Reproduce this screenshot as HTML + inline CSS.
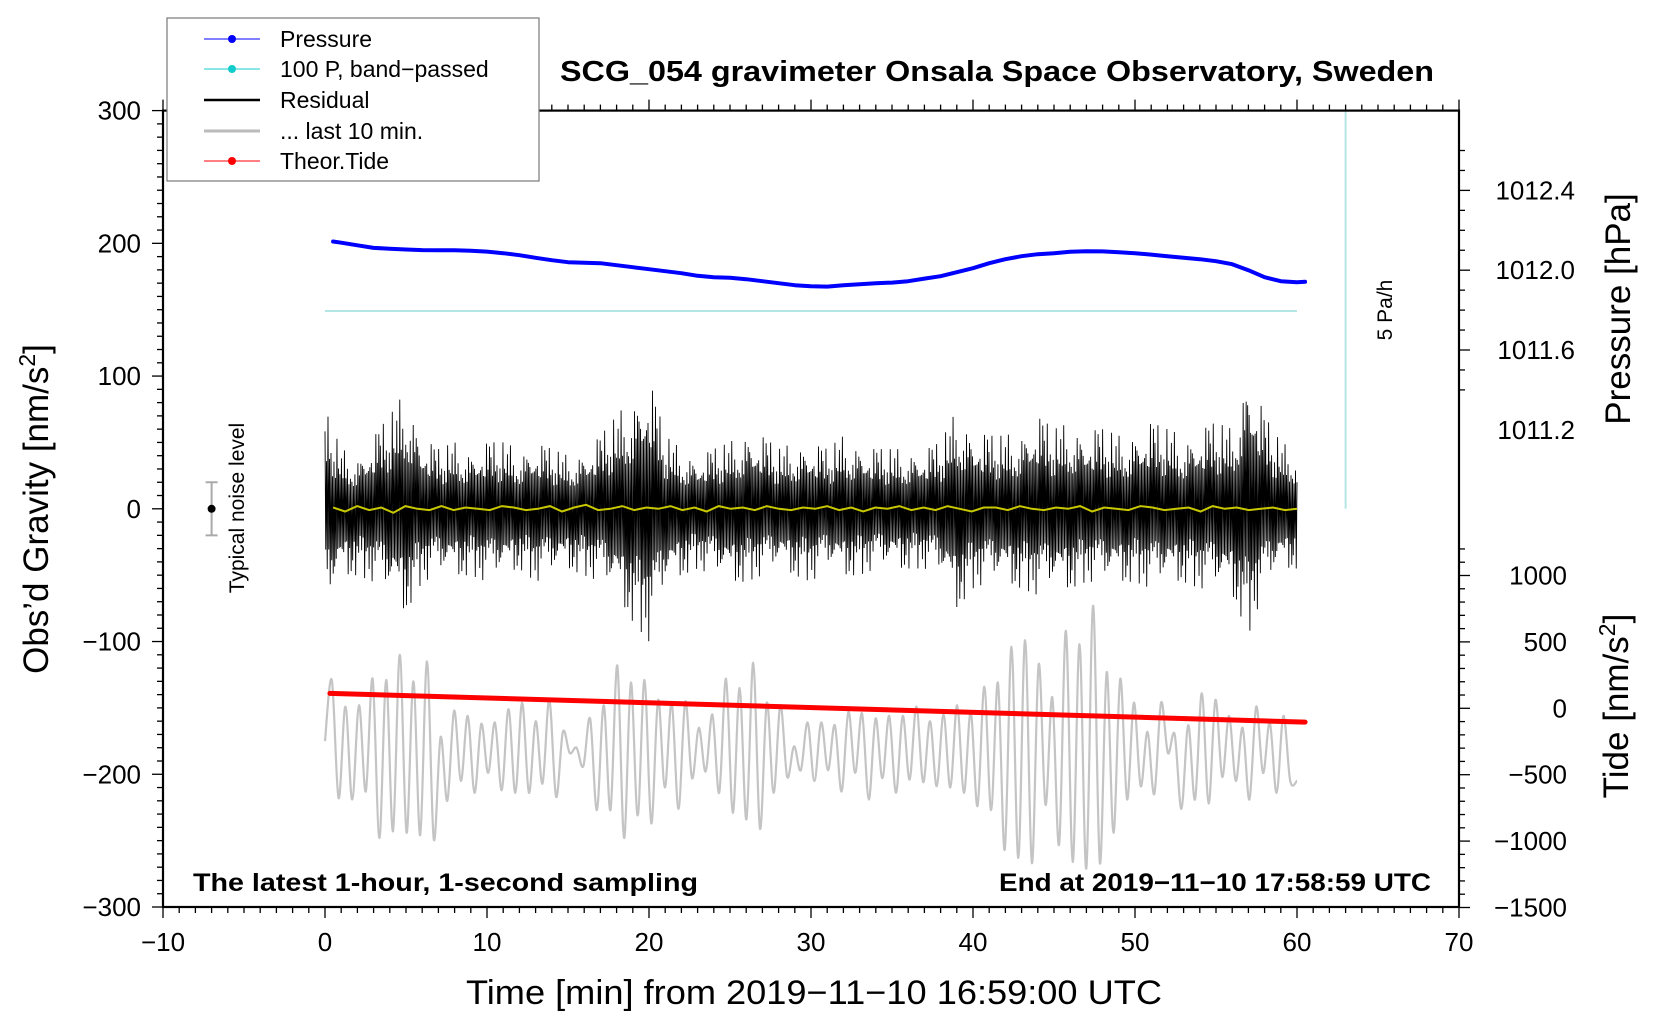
<!DOCTYPE html>
<html><head><meta charset="utf-8"><style>
html,body{margin:0;padding:0;background:#fff;}
svg{display:block;font-family:"Liberation Sans",sans-serif;}
</style></head><body>
<svg id="chart" width="1660" height="1020" viewBox="0 0 1660 1020" xmlns="http://www.w3.org/2000/svg">
<rect width="1660" height="1020" fill="#fff"/>
<g id="plot"></g>
<g id="axes"></g>
<g id="texts">
<text x="997" y="81" font-size="29" font-weight="bold" text-anchor="middle" textLength="874" lengthAdjust="spacingAndGlyphs">SCG_054 gravimeter Onsala Space Observatory, Sweden</text>
<text x="193" y="891" font-size="25" font-weight="bold" textLength="505" lengthAdjust="spacingAndGlyphs">The latest 1-hour, 1-second sampling</text>
<text x="1431" y="891" font-size="25" font-weight="bold" text-anchor="end" textLength="432" lengthAdjust="spacingAndGlyphs">End at 2019−11−10 17:58:59 UTC</text>
<text x="814" y="1004" font-size="34" text-anchor="middle" textLength="696" lengthAdjust="spacingAndGlyphs">Time [min] from 2019−11−10 16:59:00 UTC</text>
<text transform="translate(48,509) rotate(-90)" font-size="35" text-anchor="middle">Obs’d Gravity [nm/s<tspan font-size="23" dy="-13">2</tspan><tspan dy="13">]</tspan></text>
<text transform="translate(1630,309) rotate(-90)" font-size="35" text-anchor="middle">Pressure [hPa]</text>
<text transform="translate(1628,706) rotate(-90)" font-size="35" text-anchor="middle">Tide [nm/s<tspan font-size="23" dy="-13">2</tspan><tspan dy="13">]</tspan></text>
<text transform="translate(1392,310) rotate(-90)" font-size="21" text-anchor="middle">5 Pa/h</text>
<text transform="translate(244,508) rotate(-90)" font-size="21" text-anchor="middle">Typical noise level</text>
</g>
<g id="legend">
<rect x="167" y="18" width="372" height="163" fill="#fff" stroke="#777" stroke-width="1.2"/>
<g><line x1="204" y1="39" x2="260" y2="39" stroke="#00f" stroke-width="1"/><circle cx="232" cy="39" r="4" fill="#00f"/><text x="280" y="47" font-size="23">Pressure</text></g>
<g><line x1="204" y1="69" x2="260" y2="69" stroke="#1cc" stroke-width="1"/><circle cx="232" cy="69" r="4" fill="#1cc"/><text x="280" y="77" font-size="23">100 P, band−passed</text></g>
<g><line x1="204" y1="100" x2="260" y2="100" stroke="#000" stroke-width="2.5"/><text x="280" y="108" font-size="23">Residual</text></g>
<g><line x1="204" y1="131" x2="260" y2="131" stroke="#bbb" stroke-width="3"/><text x="280" y="139" font-size="23">... last 10 min.</text></g>
<g><line x1="204" y1="161" x2="260" y2="161" stroke="#f00" stroke-width="1"/><circle cx="232" cy="161" r="4" fill="#f00"/><text x="280" y="169" font-size="23">Theor.Tide</text></g>
</g>
</svg>
<script>
const xTicks = [-10,0,10,20,30,40,50,60,70];
const yTicks = [300,200,100,0,-100,-200,-300];
const pTicks = [1012.4,1012.0,1011.6,1011.2];
const pTickLabels = ["1012.4","1012.0","1011.6","1011.2"];
const tideTicks = [1000,500,0,-500,-1000,-1500];
const tideTickLabels = ["1000","500","0","\u2212500","\u22121000","\u22121500"];

const pressureTime = [0.5,1,2,3,4,5,6,7,8,9,10,11,12,13,14,15,16,17,18,19,20,21,22,23,24,25,26,27,28,29,30,31,32,33,34,35,36,37,38,39,40,41,42,43,44,45,46,47,48,49,50,51,52,53,54,55,56,57,58,59,60,60.5];
const pressureVal = [1012.144,1012.138,1012.125,1012.112,1012.108,1012.104,1012.101,1012.1,1012.1,1012.097,1012.093,1012.085,1012.075,1012.062,1012.05,1012.04,1012.037,1012.035,1012.025,1012.015,1012.005,1011.995,1011.985,1011.972,1011.965,1011.962,1011.955,1011.945,1011.935,1011.925,1011.92,1011.918,1011.925,1011.93,1011.935,1011.938,1011.945,1011.958,1011.97,1011.99,1012.01,1012.035,1012.055,1012.07,1012.08,1012.085,1012.092,1012.095,1012.094,1012.09,1012.085,1012.078,1012.07,1012.062,1012.055,1012.045,1012.03,1012.0,1011.965,1011.945,1011.94,1011.942];

const tideTime = [0.3,60.5];
const tideVal = [112,-104];

const residUp = [75,45,40,55,70,90,55,45,50,45,50,50,45,50,45,40,45,55,70,85,100,55,45,40,45,50,60,55,45,50,50,45,55,50,45,45,45,45,50,75,60,55,55,60,70,60,65,60,60,55,60,65,60,55,60,65,60,110,70,50,45];
const residDn = [-75,-50,-50,-55,-65,-78,-55,-50,-50,-50,-55,-50,-45,-55,-50,-45,-50,-55,-65,-85,-100,-60,-50,-45,-50,-55,-55,-50,-45,-50,-55,-45,-50,-50,-45,-45,-45,-45,-50,-75,-60,-55,-55,-60,-65,-60,-60,-55,-55,-55,-55,-60,-55,-55,-60,-60,-65,-95,-60,-45,-45];

const bandVal = [1,-2,2,-1,1,-3,2,0,-1,2,-1,1,0,-1,2,1,-1,0,2,-2,1,3,-1,0,2,-1,1,0,2,-1,1,-2,2,0,1,-1,2,0,-1,1,0,2,-1,1,-2,1,0,2,-1,1,-1,2,0,-2,1,1,-1,2,0,-1,1,0,2,-2,1,0,-1,2,1,-1,0,1,-2,2,0,1,-1,0,1,-1,0];

const grayPeaks = [-129,-149,-148,-128,-129,-110,-130,-115,-172,-152,-156,-162,-161,-151,-146,-160,-144,-168,-180,-158,-148,-118,-131,-129,-144,-146,-145,-165,-155,-128,-135,-116,-146,-148,-179,-161,
 -161,-163,-153,-154,-158,-156,-156,-149,-160,-155,-148,-153,-134,-131,-104,-99,-117,-142,-92,-102,-73,-123,-128,-146,-168,-146,-170,-163,-139,-144,-156,-165,-149,-161,-156];
const grayTroughs = [-218,-219,-213,-248,-243,-244,-246,-249,-220,-205,-214,-199,-212,-214,-214,-207,-217,-184,-194,-227,-227,-248,-231,-237,-210,-226,-203,-198,-214,-229,-234,-241,-214,-202,-197,-205,
 -197,-213,-199,-219,-203,-214,-204,-206,-209,-210,-214,-224,-227,-257,-263,-267,-223,-253,-266,-271,-267,-244,-219,-209,-215,-184,-226,-219,-222,-202,-205,-219,-199,-214,-205];
const grayStart = -175, grayEnd = -205;

const yellowRange = [0.5, 60];
const cyanLevel = 149;
const noiseBar = {t:-7, lo:-20, hi:20};

const X0 = 163, X1 = 1459, Y0 = 110.6, Y1 = 907;
function xs(t){ return X0 + (t+10)/80*(X1-X0); }
function ys(g){ return Y0 + (300-g)/600*(Y1-Y0); }
function yp(p){ return 190.4 + (1012.4-p)/0.4*79.8; }
function yt(v){ return 708.3 - v/500*66.4; }

const NS = "http://www.w3.org/2000/svg";
function mk(parent, tag, attrs){ const e = document.createElementNS(NS, tag); for (const k in attrs) e.setAttribute(k, attrs[k]); parent.appendChild(e); return e; }
const plot = document.getElementById('plot');
const axes = document.getElementById('axes');

let e = mk(plot,'line',{x1:xs(0),x2:xs(60),y1:ys(cyanLevel),y2:ys(cyanLevel),stroke:'#b5e6e6','stroke-width':2});


e = mk(plot,'line',{x1:xs(63),x2:xs(63),y1:Y0,y2:ys(0),stroke:'#b5e6e6','stroke-width':2});



e = mk(plot,'g',{});


mk(e,'line',{x1:xs(noiseBar.t),x2:xs(noiseBar.t),y1:ys(noiseBar.hi),y2:ys(noiseBar.lo),stroke:'#aaa','stroke-width':2});
mk(e,'line',{x1:xs(noiseBar.t)-6,x2:xs(noiseBar.t)+6,y1:ys(noiseBar.hi),y2:ys(noiseBar.hi),stroke:'#aaa','stroke-width':2});
mk(e,'line',{x1:xs(noiseBar.t)-6,x2:xs(noiseBar.t)+6,y1:ys(noiseBar.lo),y2:ys(noiseBar.lo),stroke:'#aaa','stroke-width':2});
mk(e,'circle',{cx:xs(noiseBar.t),cy:ys(0),r:4,fill:'#000'});

(function(){
  const vals=[grayStart];
  const n=Math.min(grayPeaks.length,grayTroughs.length);
  for(let i=0;i<n;i++){vals.push(grayPeaks[i]);vals.push(grayTroughs[i]);}
  vals.push(grayEnd);
  const pts=vals.map((v,i)=>[xs(60*i/(vals.length-1)),ys(v)]);
  let d='M'+pts[0][0].toFixed(1)+','+pts[0][1].toFixed(1);
  for(let i=0;i<pts.length-1;i++){
    const p0=pts[Math.max(0,i-1)],p1=pts[i],p2=pts[i+1],p3=pts[Math.min(pts.length-1,i+2)];
    const c1=[p1[0]+(p2[0]-p0[0])/6,p1[1]+(p2[1]-p0[1])/6];
    const c2=[p2[0]-(p3[0]-p1[0])/6,p2[1]-(p3[1]-p1[1])/6];
    d+='C'+c1[0].toFixed(1)+','+c1[1].toFixed(1)+' '+c2[0].toFixed(1)+','+c2[1].toFixed(1)+' '+p2[0].toFixed(1)+','+p2[1].toFixed(1);
  }
  const g=mk(plot,'path',{d:d,fill:'none',stroke:'#c4c4c4','stroke-width':2.2});
  
  
})();

(function(){
  const frac=[0.9,0.35,0.62,0.5,0.98,0.28,0.55,0.74,0.41,0.66,0.2,0.83,0.47,0.58,0.33,0.71,0.9,0.25,0.52,0.44,0.68,0.37,0.79,0.3,0.6,0.49,0.86,0.22,0.57,0.4,0.65,0.93,0.31,0.54,0.45,0.72,0.27];
  let d='';
  const steps=1300;
  for(let i=0;i<=steps;i++){
    const t=60*i/steps;
    const k=Math.min(59,Math.floor(t)), f=t-k;
    const up=residUp[k]*(1-f)+residUp[k+1]*f;
    const dn=residDn[k]*(1-f)+residDn[k+1]*f;
    const a=0.35+0.95*frac[i%frac.length]*frac[(i*7+3)%frac.length];
    const v=(i%2===0?up:dn)*Math.min(1,a);
    d+=(i===0?'M':'L')+xs(t).toFixed(2)+','+ys(v).toFixed(1);
  }
  const r=mk(plot,'path',{d:d,fill:'none',stroke:'#000','stroke-width':0.9});
  
  
})();

(function(){
  const pts=bandVal.map((v,i)=>xs(yellowRange[0]+(yellowRange[1]-yellowRange[0])*i/(bandVal.length-1)).toFixed(1)+','+ys(v).toFixed(1));
  const y=mk(plot,'polyline',{points:pts.join(' '),fill:'none',stroke:'#c8c800','stroke-width':2});
  
  
})();

(function(){
  const pts=pressureTime.map((t,i)=>xs(t).toFixed(1)+','+yp(pressureVal[i]).toFixed(1));
  const p=mk(plot,'polyline',{points:pts.join(' '),fill:'none',stroke:'#00f','stroke-width':4,'stroke-linejoin':'round','stroke-linecap':'round'});
  
  
})();

(function(){
  const pts=tideTime.map((t,i)=>xs(t).toFixed(1)+','+yt(tideVal[i]).toFixed(1));
  const p=mk(plot,'polyline',{points:pts.join(' '),fill:'none',stroke:'#f00','stroke-width':5,'stroke-linecap':'round'});
  
  
})();

e = mk(axes,'rect',{x:X0,y:Y0,width:X1-X0,height:Y1-Y0,fill:'none',stroke:'#000','stroke-width':2.2});



for(let t=-10;t<=70;t++){
  const major=t%10===0, len=major?11:6;
  mk(axes,'line',{x1:xs(t),x2:xs(t),y1:Y1,y2:Y1+len,stroke:'#000','stroke-width':1.3});
  mk(axes,'line',{x1:xs(t),x2:xs(t),y1:Y0,y2:Y0-len,stroke:'#000','stroke-width':1.3});
}
xTicks.forEach(t=>{
  const l=mk(axes,'text',{x:xs(t),y:951,'font-size':26,'text-anchor':'middle'});
  l.textContent=(t<0?'\u2212'+Math.abs(t):String(t));
  
  
});
for(let g=-300;g<=300;g+=10){
  const major=g%100===0, len=major?11:6;
  mk(axes,'line',{x1:X0-len,x2:X0,y1:ys(g),y2:ys(g),stroke:'#000','stroke-width':1.3});
}
yTicks.forEach(g=>{
  const l=mk(axes,'text',{x:141,y:ys(g)+9,'font-size':26,'text-anchor':'end'});
  l.textContent=(g<0?'\u2212'+Math.abs(g):String(g));
  
  
});
for(let i=0;i<=12;i++){
  const p=1012.6-i*0.1;
  const major=Math.abs(Math.round(p*10)%4)===0;
  mk(axes,'line',{x1:X1,x2:X1+(major?11:6),y1:yp(p),y2:yp(p),stroke:'#000','stroke-width':1.3});
}
pTicks.forEach((p,i)=>{
  const l=mk(axes,'text',{x:X1+116,y:yp(p)+9,'font-size':26,'text-anchor':'end'});
  l.textContent=pTickLabels[i];
  
  
});
for(let v=-1500;v<=1250;v+=100){
  const major=v%500===0;
  mk(axes,'line',{x1:X1,x2:X1+(major?11:6),y1:yt(v),y2:yt(v),stroke:'#000','stroke-width':1.3});
}
tideTicks.forEach((v,i)=>{
  const l=mk(axes,'text',{x:X1+108,y:yt(v)+9,'font-size':26,'text-anchor':'end'});
  l.textContent=tideTickLabels[i];
  
  
});
document.getElementById('chart').appendChild(document.getElementById('legend'));
</script>
</body></html>
